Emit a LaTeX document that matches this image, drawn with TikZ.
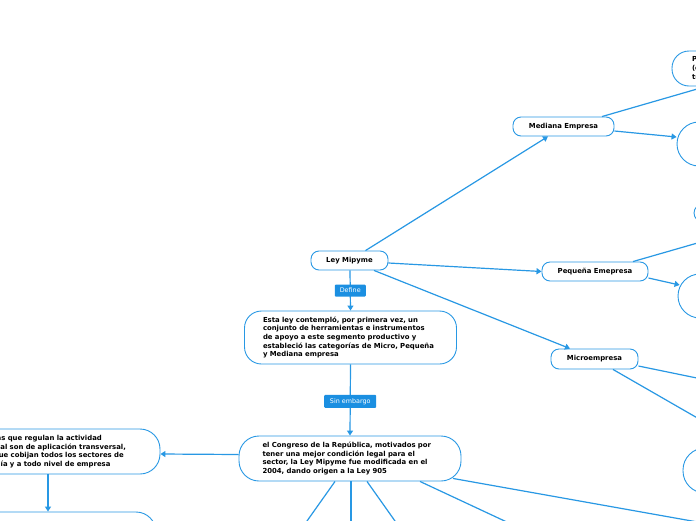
\documentclass[tikz,border=0pt]{standalone}
\usepackage{fontspec}
\setmainfont{DejaVu Sans}
\usetikzlibrary{arrows.meta}
\definecolor{mmblue}{RGB}{40,152,228}
\definecolor{lblblue}{RGB}{27,143,225}
\begin{document}
\begin{tikzpicture}[x=1pt,y=-1pt,
  box/.style={draw=mmblue,line width=0.9pt,fill=white,font=\fontsize{6.9}{8.7}\selectfont\bfseries,inner sep=0pt},
  pill/.style={box,rounded corners=8pt,minimum height=19pt},
  big/.style={box,align=left,rounded corners=18pt},
  conn/.style={draw=mmblue,line width=1.2pt},
  arr/.style={conn,-{Triangle[length=5pt,width=6pt]}},
  lbl/.style={fill=lblblue,text=white,font=\fontsize{6.4}{7}\selectfont,inner sep=0pt,rounded corners=1pt}
]
\useasboundingbox (0,0) rectangle (696,520);
\fill[white] (0,0) rectangle (696,520);
\clip (0,0) rectangle (696,520);

% main nodes
\node[pill,minimum width=77pt] (ley) at (349.5,260.5) {Ley Mipyme};
\node[big,minimum width=212pt,minimum height=53pt,text width=175pt,rounded corners=17pt] (esta) at (350.5,337.5)
  {Esta ley contempló, por primera vez, un\\conjunto de herramientas e instrumentos\\de apoyo a este segmento productivo y\\estableció las categorías de Micro, Pequeña\\y Mediana empresa};
\node[big,minimum width=222pt,minimum height=45pt,text width=175pt,rounded corners=20pt] (congreso) at (350,458.5)
  {el Congreso de la República, motivados por\\tener una mejor condición legal para el\\sector, la Ley Mipyme fue modificada en el\\2004, dando origen a la Ley 905};
\node[big,minimum width=222pt,minimum height=45pt,text width=176pt,rounded corners=20pt] (izq) at (49,451.5)
  {Las normas que regulan la actividad\\empresarial son de aplicación transversal,\\es decir que cobijan todos los sectores de\\la economía y a todo nivel de empresa};
\node[big,minimum width=214pt,minimum height=45pt,rounded corners=20pt] (abajo) at (49,534.5) {};

\node[pill,minimum width=101pt] (mediana) at (563.5,126.5) {Mediana Empresa};
\node[pill,minimum width=106pt] (pequena) at (595,271.5) {Pequeña Emepresa};
\node[pill,minimum width=87pt,minimum height=20pt] (micro) at (594.5,359) {Microempresa};

% right-edge nodes
\node[big,minimum width=130pt,minimum height=35pt,text width=90pt,rounded corners=17pt] (tr) at (737,68.5)
  {Planta de personal\\(entre 51 y 200\\trabajadores)};
\node[box,rounded corners=22pt,minimum width=110pt,minimum height=44pt] (medc) at (732,144) {};
\node[box,rounded corners=9pt,minimum width=60pt,minimum height=18pt] (pqs) at (724,213) {};
\node[box,rounded corners=22pt,minimum width=110pt,minimum height=44pt] (pqc) at (733,296) {};
\node[box,rounded corners=22pt,minimum width=110pt,minimum height=45pt] (mic) at (738,470.5) {};

% off-canvas ends
\coordinate (pq1) at (760,225);
\coordinate (mi1) at (760,391);
\coordinate (mi2) at (760,454);
\coordinate (c1) at (290,545);
\coordinate (c2) at (351,545);
\coordinate (c3) at (412,545);
\coordinate (c4) at (556,545);
\coordinate (c5) at (720,526);

% connectors
\draw[arr] ([xshift=16pt]ley.north) -- ([xshift=-15.5pt]mediana.south);
\draw[arr] ([yshift=-2.5pt]ley.east) -- (pequena.west);
\draw[arr] ([xshift=24.5pt]ley.south) -- ([xshift=-24.5pt]micro.north);
\draw[arr] ([xshift=0.5pt]ley.south) -- (esta.north) node[lbl,pos=0.5,minimum width=31pt,minimum height=12pt] {Define};
\draw[arr] (esta.south) -- (congreso.north) node[lbl,pos=0.52,minimum width=52pt,minimum height=13pt] {Sin embargo};
\draw[arr] ([yshift=4pt]congreso.west) -- ([yshift=-2.5pt]izq.east);
\draw[arr] ([xshift=-1pt]izq.south) -- ([xshift=-1pt]abajo.north);

\draw[conn] ([xshift=-15pt]congreso.south) -- (c1);
\draw[conn] ([xshift=1pt]congreso.south) -- (c2);
\draw[conn] ([xshift=17pt]congreso.south) -- (c3);
\draw[conn] ([xshift=70pt]congreso.south) -- (c4);
\draw[conn] ([xshift=103pt,yshift=3pt]congreso.south) -- (c5);

\draw[arr] ([xshift=38.5pt]mediana.north) -- ([xshift=-31pt]tr.south);
\draw[arr] ([yshift=-4.5pt]mediana.east) -- ([yshift=7pt]medc.west);
\draw[conn] ([xshift=38pt]pequena.north) -- (pq1);
\draw[arr] ([yshift=-6.5pt]pequena.east) -- ([yshift=11pt,xshift=2pt]pqc.west);
\draw[conn] ([yshift=-7pt]micro.east) -- (mi1);
\draw[conn] ([xshift=18.5pt]micro.south) -- (mi2);
\end{tikzpicture}
\end{document}
